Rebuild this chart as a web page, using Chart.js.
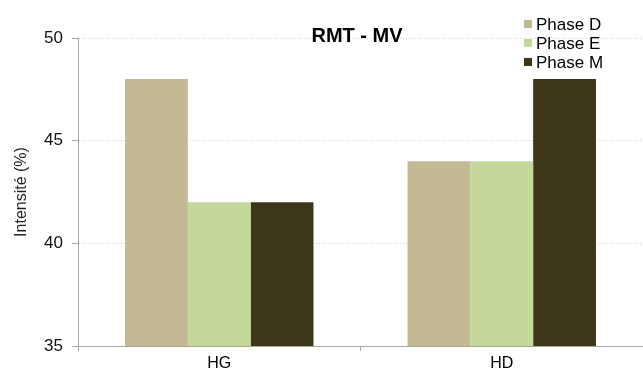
<!DOCTYPE html>
<html>
<head>
<meta charset="utf-8">
<script src="https://cdn.jsdelivr.net/npm/chart.js@4"></script>
<style>
  html, body { margin: 0; padding: 0; background: #fff; }
  #wrap { width: 643px; height: 371px; }
</style>
</head>
<body>
<div id="wrap"><canvas id="bars"></canvas></div>
<script>
const categories = ['HG', 'HD']
const seriesNames = ['Phase D', 'Phase E', 'Phase M']
const phaseD = [48, 44]
const phaseE = [42, 44]
const phaseM = [42, 48]
const yTicks = [35, 40, 45, 50]
const chartTitle = 'RMT - MV'
const yTitle = 'Intensité (%)'

const colors = ['#c3ba94', '#c4d89a', '#3c3718']
const fontFamily = '"Liberation Sans", Arial, sans-serif'

// title and legend drawn by hand, they sit over the plot like in the original
const overlay = {
    id: 'overlay',
    afterDraw: (chart) => {
        const ctx = chart.ctx
        ctx.save()
        ctx.fillStyle = '#000'
        ctx.font = 'bold 20px ' + fontFamily
        ctx.textAlign = 'center'
        ctx.textBaseline = 'middle'
        ctx.fillText(chartTitle, 357, 36)

        ctx.font = '17px ' + fontFamily
        ctx.textAlign = 'left'
        chart.data.datasets.forEach((ds, i) => {
            const y = 24 + i * 19
            ctx.fillStyle = ds.backgroundColor
            ctx.fillRect(524, y - 4, 8, 8)
            ctx.fillStyle = '#000'
            ctx.fillText(ds.label, 536, y + 1)
        })
        ctx.restore()
    }
}

const data = {
    labels: categories,
    datasets: [
        { label: seriesNames[0], data: phaseD, backgroundColor: colors[0] },
        { label: seriesNames[1], data: phaseE, backgroundColor: colors[1] },
        { label: seriesNames[2], data: phaseM, backgroundColor: colors[2] },
    ]
}

const options = {
    responsive: true,
    maintainAspectRatio: false,
    animation: false,
    datasets: {
        bar: {
            categoryPercentage: 0.667,
            barPercentage: 1.0,
        }
    },
    layout: {
        padding: { top: 38, left: 0, right: 0, bottom: 0 }
    },
    plugins: {
        legend: { display: false },
        title: { display: false },
        tooltip: { enabled: false },
    },
    scales: {
        x: {
            offset: true,
            grid: {
                offset: true,
                drawOnChartArea: false,
                drawTicks: true,
                tickLength: 5,
                tickColor: '#a6a6a6',
            },
            border: { color: '#a6a6a6' },
            ticks: {
                color: '#000',
                padding: 3,
                font: { family: fontFamily, size: 16 },
            },
            afterFit: (scale) => { scale.height = 25 },
        },
        y: {
            min: 35,
            max: 50,
            afterBuildTicks: (scale) => {
                scale.ticks = yTicks.map(v => ({ value: v }))
            },
            grid: {
                color: '#d0d0d0',
                tickColor: '#a6a6a6',
                tickLength: 6,
            },
            border: { color: '#a6a6a6', dash: [1, 2] },
            ticks: {
                color: '#111',
                padding: 9,
                font: { family: fontFamily, size: 17 },
            },
            title: {
                display: true,
                text: yTitle,
                color: '#222',
                padding: { top: 12, bottom: 0 },
                font: { family: fontFamily, size: 16 },
            },
            afterFit: (scale) => { scale.width = 78 },
        },
    }
}

const barChartDoc = document.getElementById('bars')
const barChart = new Chart(barChartDoc, {
    type: 'bar',
    data: data,
    options: options,
    plugins: [overlay],
})
</script>
</body>
</html>
